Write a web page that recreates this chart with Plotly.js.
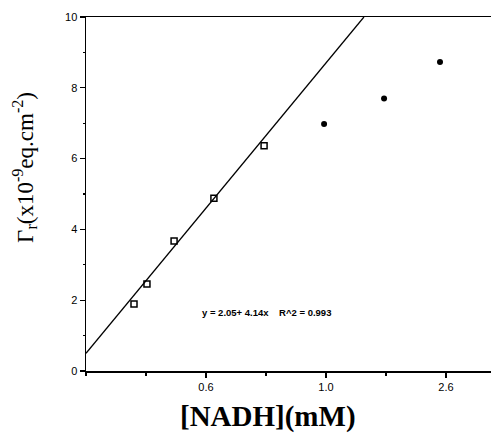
<!DOCTYPE html>
<html>
<head>
<meta charset="utf-8">
<script src="https://cdn.plot.ly/plotly-3.0.1.min.js"></script>
<style>html,body{margin:0;padding:0;background:#fff;}#chart{width:491px;height:433px;}</style>
</head>
<body>
<div id="chart"></div>
<script>
// Open squares (linear region)
const linX = [0.20, 0.254, 0.367, 0.533, 0.742];
const linY = [1.89, 2.46, 3.67, 4.88, 6.36];
// Filled circles (saturation region)
const satX = [0.992, 1.242, 1.475];
const satY = [6.98, 7.70, 8.73];
// Fitted line
const fitX = [0, 1.158];
const fitY = [0.5, 10];
// Tick labels
const xTickVals = [0.5, 1.0, 1.5];
const xTickText = ["0.6", "1.0", "2.6"];
const yTickVals = [0, 2, 4, 6, 8, 10];
const yTickText = ["0", "2", "4", "6", "8", "10"];
const eqText = "y = 2.05+ 4.14x    R^2 = 0.993";
const xTitle = "[NADH](mM)";
const yTitle = "Γ<sub>r</sub>(x10<sup>-9</sup>eq.cm<sup>-2</sup>)";

const traces = [
  {x: fitX, y: fitY, mode: 'lines', line: {color: '#000', width: 1.3}, hoverinfo: 'skip'},
  {x: linX, y: linY, mode: 'markers', marker: {symbol: 'square-open', size: 6, color: '#000', line: {width: 1.5, color: '#000'}}, cliponaxis: false},
  {x: satX, y: satY, mode: 'markers', marker: {symbol: 'circle', size: 6, color: '#000'}, cliponaxis: false}
];

const layout = {
  width: 491, height: 433,
  margin: {l: 86, r: 0, t: 17, b: 62},
  paper_bgcolor: '#fff', plot_bgcolor: '#fff',
  showlegend: false,
  font: {family: 'Liberation Sans, Arial, sans-serif', color: '#000'},
  xaxis: {
    range: [0, 1.6875], showgrid: false, zeroline: false,
    showline: true, linecolor: '#000', linewidth: 1.5, mirror: true,
    ticks: 'outside', ticklen: 5, tickwidth: 1.2, tickcolor: '#000',
    tickvals: xTickVals, ticktext: xTickText,
    tickfont: {size: 11, family: 'Liberation Sans, Arial, sans-serif'},
    minor: {dtick: 0.25, tick0: 0, ticks: 'outside', ticklen: 3, tickcolor: '#000'}
  },
  yaxis: {
    range: [0, 10], showgrid: false, zeroline: false,
    showline: true, linecolor: '#000', linewidth: 1.5,
    ticks: 'outside', ticklen: 5, tickwidth: 1.2, tickcolor: '#000',
    tickvals: yTickVals, ticktext: yTickText,
    tickfont: {size: 11, family: 'Liberation Sans, Arial, sans-serif'},
    minor: {dtick: 1, tick0: 0, ticks: 'outside', ticklen: 2, tickcolor: '#000'}
  },
  annotations: [
    {
      x: 0.475, y: 1.66, xref: 'x', yref: 'y', xanchor: 'left', yanchor: 'middle',
      text: eqText, showarrow: false,
      font: {size: 9.5, family: 'Liberation Sans, Arial, sans-serif', weight: 'bold'}
    },
    {
      x: 0.449, y: -0.128, xref: 'paper', yref: 'paper', xanchor: 'center', yanchor: 'middle',
      text: xTitle, showarrow: false,
      font: {family: 'Liberation Serif, Times New Roman, serif', size: 29, weight: 'bold'}
    },
    {
      x: -0.152, y: 0.575, xref: 'paper', yref: 'paper', xanchor: 'center', yanchor: 'middle',
      text: yTitle, showarrow: false, textangle: -90,
      font: {family: 'Liberation Serif, Times New Roman, serif', size: 23}
    }
  ]
};

Plotly.newPlot('chart', traces, layout, {displayModeBar: false, staticPlot: true});
</script>
</body>
</html>
